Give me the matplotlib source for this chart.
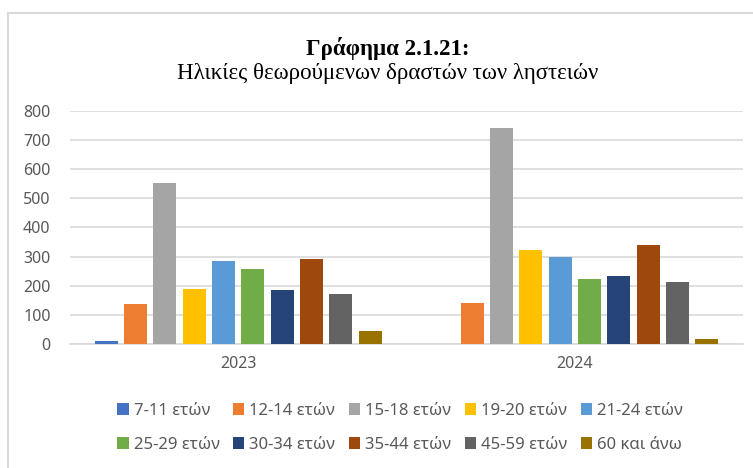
import matplotlib.pyplot as plt
import numpy as np
from matplotlib.patches import Rectangle

plt.rcParams['font.family'] = ['Noto Sans', 'DejaVu Sans']

years = ['2023', '2024']
age_groups = ['7-11 ετών', '12-14 ετών', '15-18 ετών', '19-20 ετών', '21-24 ετών',
              '25-29 ετών', '30-34 ετών', '35-44 ετών', '45-59 ετών', '60 και άνω']
values_2023 = [9, 136, 551, 189, 283, 256, 185, 290, 171, 45]
values_2024 = [0, 139, 741, 322, 298, 223, 234, 339, 213, 16]
colors = ['#4472c4', '#ed7d31', '#a5a5a5', '#ffc000', '#5b9bd5',
          '#70ad47', '#264478', '#9e480e', '#636363', '#997300']

fig = plt.figure(figsize=(7.53, 4.68), dpi=100)
ax = fig.add_axes([70/753, 124/468, 673/753, 233.3/468])

# outer chart frame (only top/left visible in the crop)
fig.patches.append(Rectangle((8/753, -0.1), 1.2, (468-13)/468 + 0.1,
                             transform=fig.transFigure, fill=False,
                             edgecolor='#d9d9d9', linewidth=1.5))

x = np.arange(len(years))
step = 0.0872
width = 0.0685
for i, (name, c) in enumerate(zip(age_groups, colors)):
    vals = [values_2023[i], values_2024[i]]
    ax.bar(x + (i - 4.5) * step, vals, width, color=c, label=name, zorder=3)

ax.set_xlim(-0.5, 1.5)
ax.set_ylim(0, 800)
ax.set_yticks(range(0, 801, 100))
ax.set_xticks(x)
ax.set_xticklabels(years)
ax.grid(axis='y', color='#d9d9d9', linewidth=1.2, zorder=0)
for s in ['top', 'right', 'left']:
    ax.spines[s].set_visible(False)
ax.spines['bottom'].set_color('#d9d9d9')
ax.spines['bottom'].set_linewidth(1.2)
ax.tick_params(length=0, labelsize=11.5, colors='#595959')
ax.tick_params(axis='x', pad=9)
ax.tick_params(axis='y', pad=14)

fig.text(388/753, 1 - 48/468, 'Γράφημα 2.1.21:', ha='center', va='center',
         family=['Liberation Serif'], fontsize=16.5, fontweight='bold')
fig.text(388/753, 1 - 74/468, 'Ηλικίες θεωρούμενων δραστών των ληστειών', ha='center', va='center',
         family=['Liberation Serif'], fontsize=16.5)

# legend fills row by row like the original
handles, labels = ax.get_legend_handles_labels()
order = [0, 5, 1, 6, 2, 7, 3, 8, 4, 9]
fig.legend([handles[k] for k in order], [labels[k] for k in order],
           loc='center', bbox_to_anchor=(400/753, 1 - 428/468), ncol=5, frameon=False,
           fontsize=12, labelcolor='#595959', handlelength=0.7, handleheight=0.7,
           handletextpad=0.3, columnspacing=0.8, labelspacing=1.1)

plt.savefig('out.png', dpi=100)
